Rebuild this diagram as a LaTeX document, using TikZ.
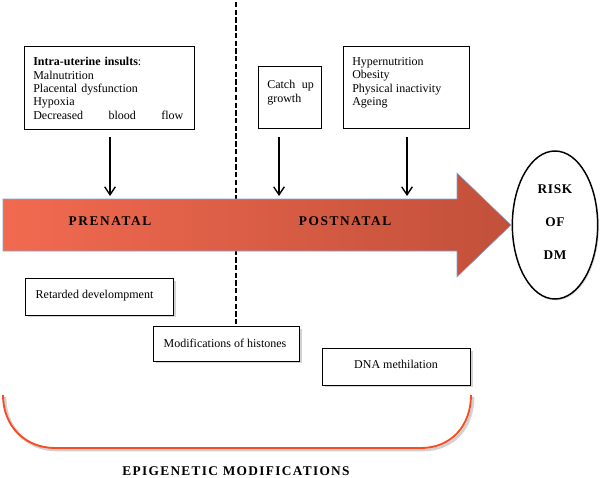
\documentclass[tikz,border=0pt]{standalone}
\usepackage{fontspec}
\setmainfont{Liberation Serif}
\usetikzlibrary{shadows, shapes.geometric, arrows.meta}

\definecolor{arrowleft}{RGB}{241,106,80}
\definecolor{arrowright}{RGB}{194,80,58}
\definecolor{arrowline}{RGB}{130,165,215}
\definecolor{bracecol}{RGB}{250,75,35}

\tikzset{
  box/.style={draw, line width=1.1pt, fill=white, inner sep=0pt, anchor=north west},
  lowbox/.style={box, drop shadow={shadow xshift=1.5pt, shadow yshift=-1.5pt, opacity=.35}},
  big/.style={font=\fontsize{10}{12}\selectfont\bfseries\addfontfeatures{LetterSpace=12}},
  small/.style={font=\fontsize{9}{10.1}\selectfont},
  down/.style={line width=1pt, -{Straight Barb[length=6pt, width=8pt]}}
}

\begin{document}
\begin{tikzpicture}[x=0.75pt, y=-0.75pt]
\useasboundingbox (0, 0) rectangle (600, 478);

% time line
\draw[line width=1.3pt, dash pattern=on 4pt off 1.8pt] (236, 2) to (236, 327);

% big arrow
\draw[arrowline, left color=arrowleft, right color=arrowright]
  (3, 199) -- (457, 199) -- (457, 173) -- (511, 225) -- (457, 277)
  -- (457, 251) -- (3, 251) -- cycle;
\node[big] (pre) at (110, 221) {PRENATAL};
\node[big] (post) at (345, 221) {POSTNATAL};

% insults
\node[box, small, minimum width=127.5pt, minimum height=62pt] (ins) at (24, 46) {};
\node[small, anchor=north west, text width=112.5pt, align=left, inner sep=0pt] (inst) at (33, 57)
  {\textbf{Intra-uterine insults}:\\ Malnutrition\\ Placental dysfunction\\ Hypoxia\\
   \makebox[112.5pt][l]{Decreased\hfill blood\hfill flow}};
\node[box, small, minimum width=47pt, minimum height=46.5pt] (cat) at (258, 66) {};
\node[small, anchor=north west, align=left, inner sep=0pt] (catt) at (267, 80)
  {Catch\hspace{5pt}up\\ growth};
\node[box, small, minimum width=94.5pt, minimum height=61.5pt] (hyp) at (343, 46) {};
\node[small, anchor=north west, align=left, inner sep=0pt] (hypt) at (352, 57)
  {Hypernutrition\\ Obesity\\ Physical inactivity\\ Ageing};

\coordinate (a1) at (110, 137);
\coordinate (b1) at (110, 196);
\coordinate (a2) at (279, 137);
\coordinate (b2) at (279, 196);
\coordinate (a3) at (407, 137);
\coordinate (b3) at (407, 196);
\draw[down] (a1) to (b1);
\draw[down] (a2) to (b2);
\draw[down] (a3) to (b3);

% risk
\node[draw, line width=1.1pt, ellipse, fill=white, minimum width=64pt, minimum height=111pt,
  drop shadow={shadow xshift=1pt, shadow yshift=-1pt, opacity=.25}] (risk) at (555, 225) {};
\node[big, align=center, font=\fontsize{10}{24.5}\selectfont\bfseries\addfontfeatures{LetterSpace=5}] (riskt) at (555, 222) {RISK\\OF\\DM};

% epigenetic modifications
\node[lowbox, small, minimum width=111pt, minimum height=27.5pt] (ret) at (25, 278) {};
\node[small, anchor=west] (rett) at (31, 296) {Retarded develompment};
\node[lowbox, small, minimum width=109.5pt, minimum height=26pt] (his) at (153, 326) {};
\node[small, anchor=west] (hist) at (159, 343) {Modifications of histones};
\node[lowbox, small, minimum width=111pt, minimum height=27.5pt] (dna) at (322, 348) {};
\node[small] (dnat) at (396, 364) {DNA methilation};

\draw[black!30, line width=2pt, opacity=.6]
  (5, 397) .. controls (5, 428) and (27, 450) .. (57, 450) -- (423, 450)
  .. controls (453, 450) and (473, 428) .. (473, 397);
\draw[bracecol, line width=1.4pt]
  (3, 395) .. controls (3, 426) and (25, 448) .. (55, 448) -- (421, 448)
  .. controls (451, 448) and (471, 426) .. (471, 395);
\node[big, font=\fontsize{10}{12}\selectfont\bfseries\addfontfeatures{LetterSpace=10}] (epi) at (236, 471) {EPIGENETIC MODIFICATIONS};
\end{tikzpicture}
\end{document}
